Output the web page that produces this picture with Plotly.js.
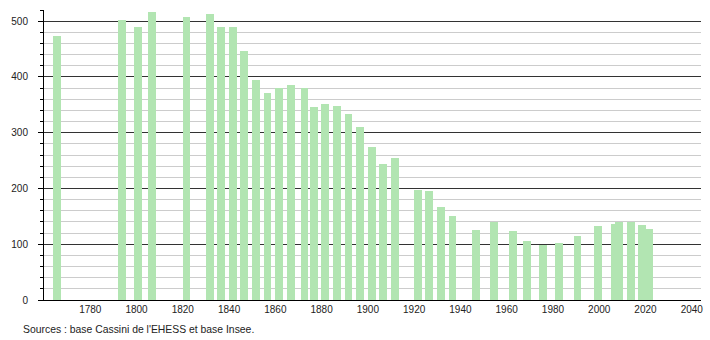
<!DOCTYPE html>
<html>
<head>
<meta charset="utf-8">
<script src="https://cdn.plot.ly/plotly-3.0.1.min.js"></script>
<style>html,body{margin:0;padding:0;background:#fff;}#chart{width:710px;height:340px;}</style>
</head>
<body>
<div id="chart"></div>
<script>
const years = [1765, 1793, 1800, 1806, 1821, 1831, 1836, 1841, 1846, 1851, 1856, 1861, 1866, 1872, 1876, 1881, 1886, 1891, 1896, 1901, 1906, 1911, 1921, 1926, 1931, 1936, 1946, 1954, 1962, 1968, 1975, 1982, 1990, 1999, 2006, 2008, 2013, 2018, 2021];
const population = [473, 502, 490, 517, 508, 513, 490, 490, 446, 394, 371, 380, 385, 380, 346, 351, 347, 333, 311, 275, 244, 255, 198, 195, 167, 151, 125, 140, 123, 105, 98, 102, 114, 132, 137, 140, 140, 134, 127];
const xTicks = [1780, 1800, 1820, 1840, 1860, 1880, 1900, 1920, 1940, 1960, 1980, 2000, 2020, 2040];
const yTicks = [0, 100, 200, 300, 400, 500];
const sourceText = "Sources : base Cassini de l'EHESS et base Insee.";

const font = {family: 'Liberation Sans, Arial, sans-serif', size: 10, color: '#222'};

Plotly.newPlot('chart', [{
  type: 'bar',
  x: years,
  y: population,
  width: 3.4,
  offset: -1.1,
  marker: {color: '#b2e5b2', line: {width: 0}},
  hoverinfo: 'x+y'
}], {
  width: 710, height: 340,
  margin: {l: 44, r: 9, t: 10, b: 40},
  paper_bgcolor: '#fff', plot_bgcolor: '#fff',
  font: font,
  showlegend: false,
  bargap: 0,
  xaxis: {
    range: [1760, 2044],
    tickvals: xTicks,
    ticktext: xTicks.map(String),
    showgrid: false,
    zeroline: false,
    showline: true, linecolor: '#000', linewidth: 1,
    ticks: '',
    tickfont: font
  },
  yaxis: {
    range: [0, 520],
    tickvals: yTicks,
    ticktext: yTicks.map(String),
    showgrid: true, gridcolor: '#333', gridwidth: 1,
    zeroline: false,
    showline: true, linecolor: '#000', linewidth: 1,
    ticks: 'outside', ticklen: 5, tickcolor: '#000',
    ticklabelstandoff: 8,
    tickfont: font,
    minor: {dtick: 20, showgrid: true, gridcolor: '#cccccc', gridwidth: 1, ticks: 'outside', ticklen: 3, tickcolor: '#000'}
  },
  annotations: [{
    text: sourceText,
    xref: 'paper', yref: 'paper',
    x: -0.035, y: -0.103,
    xanchor: 'left', yanchor: 'middle',
    showarrow: false,
    font: {family: font.family, size: 10.4, color: '#222'}
  }]
}, {displayModeBar: false, staticPlot: true});
</script>
</body>
</html>
